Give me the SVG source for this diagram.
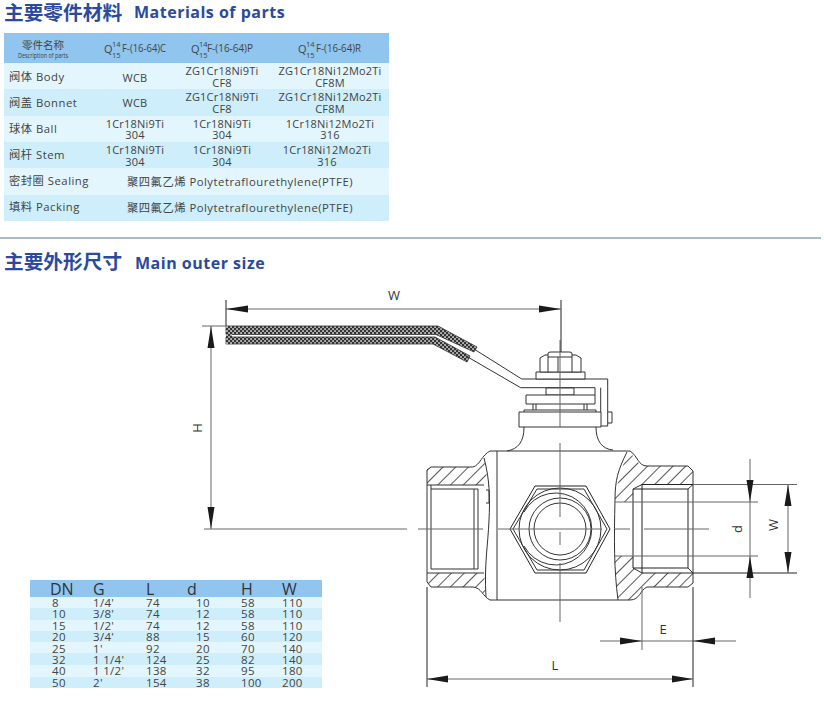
<svg xmlns="http://www.w3.org/2000/svg" width="824" height="712" viewBox="0 0 824 712">
<style>
.h{font-family:"Noto Sans CJK SC","Noto Sans",sans-serif;font-weight:700;font-size:19.7px;fill:#2b4a9e}
.he{font-family:"Open Sans","Noto Sans",sans-serif;font-weight:700;font-size:16px;fill:#2b4a9e;letter-spacing:.5px}
.t{font-family:"Open Sans","Noto Sans CJK SC",sans-serif;font-size:11px;fill:#444;letter-spacing:.2px}
.u{font-family:"Open Sans","Noto Sans CJK SC",sans-serif;font-size:11.3px;fill:#444;letter-spacing:.5px}
.c{text-anchor:middle}
.n{font-family:"Open Sans","Noto Sans CJK SC",sans-serif;font-size:11px;fill:#444}
.s{font-family:"Open Sans","Noto Sans CJK SC",sans-serif;font-size:7.5px;fill:#444}
.b{font-family:"Open Sans",sans-serif;font-size:13px;fill:#333}
.d{font-family:"Open Sans",sans-serif;font-size:11.5px;fill:#444;letter-spacing:.3px}
.dh{font-family:"Open Sans",sans-serif;font-size:16px;fill:#333}
.l{fill:none;stroke:#333;stroke-width:1}
.g{fill:none;stroke:#666;stroke-width:1}
.k{fill:none;stroke:#222;stroke-width:1}
.w{fill:#fff;stroke:#333;stroke-width:1}
.a{fill:#1a1a1a}
.r1{fill:#e3f5fd}
.r2{fill:#cdeefa}
.hd{fill:#8fc5ef}
</style>
<defs>
<pattern id="hatch" width="9" height="9" patternUnits="userSpaceOnUse" patternTransform="rotate(45)"><line x1="4.5" y1="0" x2="4.5" y2="9" stroke="#444" stroke-width=".9"/></pattern>
<pattern id="mesh" width="4" height="4" patternUnits="userSpaceOnUse"><rect width="4" height="4" fill="#333"/><rect x=".3" y=".3" width="1.5" height="1.5" fill="#fff"/><rect x="2.3" y="2.3" width="1.5" height="1.5" fill="#fff"/></pattern>
</defs>
<rect width="824" height="712" fill="#fff"/>
<g id="title-materials">
<text class="h" x="4" y="20">主要零件材料</text>
<text class="he" x="134" y="18">Materials of parts</text>
</g>
<g id="materials-table">
<rect class="hd" x="4" y="33" width="385" height="30"/>
<rect class="r1" x="4" y="63" width="385" height="26"/>
<rect class="r2" x="4" y="89" width="385" height="27"/>
<rect class="r1" x="4" y="116" width="385" height="26"/>
<rect class="r2" x="4" y="142" width="385" height="26"/>
<rect class="r1" x="4" y="168" width="385" height="27"/>
<rect class="r2" x="4" y="195" width="385" height="26"/>
<text class="n c" x="43" y="49" style="font-size:10.5px">零件名称</text>
<text class="s c" x="43" y="58" textLength="50" lengthAdjust="spacingAndGlyphs">Description of parts</text>
<text class="n" x="104" y="53">Q</text><text class="s" x="112" y="47">14</text><text class="s" x="112" y="58">15</text>
<text class="n" x="122" y="52" textLength="44" lengthAdjust="spacingAndGlyphs">F-(16-64)C</text>
<text class="n" x="191" y="53">Q</text><text class="s" x="199" y="47">14</text><text class="s" x="199" y="58">15</text>
<text class="n" x="207" y="52" textLength="46" lengthAdjust="spacingAndGlyphs">F-(16-64)P</text>
<text class="n" x="298" y="53">Q</text><text class="s" x="306" y="47">14</text><text class="s" x="306" y="58">15</text>
<text class="n" x="316" y="52" textLength="45" lengthAdjust="spacingAndGlyphs">F-(16-64)R</text>
<text class="u" x="9" y="81">阀体 Body</text>
<text class="t c" x="135" y="82">WCB</text>
<text class="t c" x="222" y="75">ZG1Cr18Ni9Ti</text><text class="t c" x="222" y="87">CF8</text>
<text class="t c" x="330" y="75">ZG1Cr18Ni12Mo2Ti</text><text class="t c" x="330" y="87">CF8M</text>
<text class="u" x="9" y="107">阀盖 Bonnet</text>
<text class="t c" x="135" y="107">WCB</text>
<text class="t c" x="222" y="101">ZG1Cr18Ni9Ti</text><text class="t c" x="222" y="113">CF8</text>
<text class="t c" x="330" y="101">ZG1Cr18Ni12Mo2Ti</text><text class="t c" x="330" y="113">CF8M</text>
<text class="u" x="9" y="133">球体 Ball</text>
<text class="t c" x="135" y="128">1Cr18Ni9Ti</text><text class="t c" x="135" y="139">304</text>
<text class="t c" x="222" y="128">1Cr18Ni9Ti</text><text class="t c" x="222" y="139">304</text>
<text class="t c" x="330" y="128">1Cr18Ni12Mo2Ti</text><text class="t c" x="330" y="139">316</text>
<text class="u" x="9" y="159">阀杆 Stem</text>
<text class="t c" x="135" y="154">1Cr18Ni9Ti</text><text class="t c" x="135" y="166">304</text>
<text class="t c" x="222" y="154">1Cr18Ni9Ti</text><text class="t c" x="222" y="166">304</text>
<text class="t c" x="327" y="154">1Cr18Ni12Mo2Ti</text><text class="t c" x="327" y="166">316</text>
<text class="u" x="9" y="185">密封圈 Sealing</text>
<text class="u" x="127" y="186">聚四氟乙烯 Polytetraflourethylene(PTFE)</text>
<text class="u" x="9" y="211">填料 Packing</text>
<text class="u" x="127" y="212">聚四氟乙烯 Polytetraflourethylene(PTFE)</text>
</g>
<line id="separator" x1="0" y1="238" x2="821" y2="238" stroke="#5a75ac" stroke-width="1.2"/>
<g id="title-size">
<text class="h" x="4" y="269">主要外形尺寸</text>
<text class="he" x="135" y="269">Main outer size</text>
</g>
<g id="size-table">
<rect class="hd" x="30" y="580" width="292" height="17"/>
<rect class="r1" x="30" y="597" width="292" height="11"/>
<rect class="r2" x="30" y="608" width="292" height="12"/>
<rect class="r1" x="30" y="620" width="292" height="11"/>
<rect class="r2" x="30" y="631" width="292" height="11"/>
<rect class="r1" x="30" y="642" width="292" height="11"/>
<rect class="r2" x="30" y="653" width="292" height="12"/>
<rect class="r1" x="30" y="665" width="292" height="12"/>
<rect class="r2" x="30" y="677" width="292" height="11"/>
<text class="dh" x="50" y="595">DN</text><text class="dh" x="93" y="595">G</text><text class="dh" x="146" y="595">L</text><text class="dh" x="187" y="595">d</text><text class="dh" x="241" y="595">H</text><text class="dh" x="282" y="595">W</text>
<text class="d" x="52" y="607">8</text><text class="d" x="93" y="607">1/4'</text><text class="d" x="146" y="607">74</text><text class="d" x="196" y="607">10</text><text class="d" x="241" y="607">58</text><text class="d" x="282" y="607">110</text>
<text class="d" x="52" y="618">10</text><text class="d" x="93" y="618">3/8'</text><text class="d" x="146" y="618">74</text><text class="d" x="196" y="618">12</text><text class="d" x="241" y="618">58</text><text class="d" x="282" y="618">110</text>
<text class="d" x="52" y="630">15</text><text class="d" x="93" y="630">1/2'</text><text class="d" x="146" y="630">74</text><text class="d" x="196" y="630">12</text><text class="d" x="241" y="630">58</text><text class="d" x="282" y="630">110</text>
<text class="d" x="52" y="641">20</text><text class="d" x="93" y="641">3/4'</text><text class="d" x="146" y="641">88</text><text class="d" x="196" y="641">15</text><text class="d" x="241" y="641">60</text><text class="d" x="282" y="641">120</text>
<text class="d" x="52" y="653">25</text><text class="d" x="93" y="653">1'</text><text class="d" x="146" y="653">92</text><text class="d" x="196" y="653">20</text><text class="d" x="241" y="653">70</text><text class="d" x="282" y="653">140</text>
<text class="d" x="52" y="664">32</text><text class="d" x="93" y="664">1 1/4'</text><text class="d" x="146" y="664">124</text><text class="d" x="196" y="664">25</text><text class="d" x="241" y="664">82</text><text class="d" x="282" y="664">140</text>
<text class="d" x="52" y="675">40</text><text class="d" x="93" y="675">1 1/2'</text><text class="d" x="146" y="675">138</text><text class="d" x="196" y="675">32</text><text class="d" x="241" y="675">95</text><text class="d" x="282" y="675">180</text>
<text class="d" x="52" y="687">50</text><text class="d" x="93" y="687">2'</text><text class="d" x="146" y="687">154</text><text class="d" x="196" y="687">38</text><text class="d" x="241" y="687">100</text><text class="d" x="282" y="687">200</text>
</g>
<g id="handle">
<path d="M226 326H438L477 347L474 352L436 334.5H226Z" fill="url(#mesh)" stroke="#333" stroke-width=".8"/>
<path d="M226 337H435L470 356L467 362L433 344H226Z" fill="url(#mesh)" stroke="#333" stroke-width=".8"/>
<path d="M226 326H232V344H226Z" fill="url(#mesh)"/>
<path class="l" d="M474 349L521.7 379H607.7V426H601"/>
<path class="l" d="M466 356L520.7 387.7H595V395"/>
<path class="l" d="M600.7 387.7V412"/>
</g>
<g id="stem">
<path class="w" d="M536 372H585V379H536Z"/>
<path class="w" d="M540 372V358L545 355H576L581 358V372Z"/>
<path class="w" d="M548 357V353L550 352H570L572 353V357Z"/>
<path class="l" d="M548 357V372M558 357V372M572 357V372"/>
<path class="w" d="M546 388H574V395H546Z"/>
<path class="w" d="M526 395H595V404H526Z"/>
<path class="l" d="M533 404V410M536 404V410M584 404V410M587 404V410"/>
<path class="l" d="M524 412V410H596V412"/>
<path class="w" d="M519 412H601V427H519Z"/>
<path class="l" d="M608 412H612V423H608"/>
<path class="l" d="M524 427C524 442 518 449 507 451M596 427C596 441 602 449 613 450"/>
</g>
<g id="body">
<path d="M427 470L431 467H473L484 458L490 497V485H427Z" fill="url(#hatch)"/>
<path d="M427 573H484L486 597L478 587H431L427 582Z" fill="url(#hatch)"/>
<path d="M627 452H630C635 458 638 466 647 466H688L693 471V484.5H642L633 489V502H615V493Z" fill="url(#hatch)"/>
<path d="M614 556H633V568L642 573H693V583L688 587H647C640 590 640 600 630 600H618Z" fill="url(#hatch)"/>
<path class="l" d="M427 470L431 467H473C480 465 482 455 490 451H630C638 456 638 466 647 466H688L693 471V583L688 587H647C640 590 640 600 630 600H490C482 596 482 588 473 587H431L427 582Z"/>
<path class="l" d="M497 451V600"/>
<path class="l" d="M484 458C490 480 490 500 489 520C488 545 484 565 486 597"/>
<path class="l" d="M627 452C618 470 615 480 615 500C614 540 614 570 618 600"/>
<path class="l" d="M427 485H484M427 573H484M431 489H478V569H431V485M474 489V569"/>
<path class="k" d="M642 484.5H693M642 573H693M642 484.5V573M633 489H688V568H633Z"/>
<path class="l" d="M642 484.5L633 489M642 573L633 568M693 484.5L688 489M693 573L688 568"/>
<path class="l" d="M486 490H489V503H486"/>
<path class="k" d="M510 529L535 486H586L610 529L586 573H535Z"/>
<path class="l" d="M513 529L537 489H584L607 529L584 570H537Z"/>
<circle class="l" cx="560" cy="529" r="41"/>
<path class="l" d="M524 512A36 36 0 1 1 524 546"/>
<circle class="l" cx="560" cy="529" r="31"/>
<circle class="l" cx="560" cy="529" r="26"/>
</g>
<g id="connectors">
<path class="g" d="M560 340V427M560 443V517M560 532V545M560 563V622"/>
<path class="g" d="M204 529H407M418 529H483M498 529H602M615 529H630M644 529H709"/>
<path class="g" d="M615 502H758M615 556H758M693 484.5H797"/>
<path class="k" d="M693 573H797"/>
<path class="g" d="M750 459V598M788 484.5V573"/>
<path class="g" d="M642 587V650M600 641H736"/>
<path class="k" d="M693 587V687"/>
<path class="k" d="M427 587V687"/>
<path class="g" d="M427 679H693"/>
<path class="k" d="M226 300V326"/>
<path class="k" d="M561 300V352"/>
<path class="g" d="M226 309H561M211 326V529M202 326H226"/>
<path class="a" d="M226 309L248 305.5V312.5ZM561 309L539 305.5V312.5ZM211 326L207.5 348H214.5ZM211 529L207.5 507H214.5Z"/>
<path class="a" d="M750 502L746.5 480H753.5ZM750 556L746.5 578H753.5ZM788 484.5L784.5 506H791.5ZM788 573L784.5 552H791.5Z"/>
<path class="a" d="M642 641L620 637.5V644.5ZM693 641L715 637.5V644.5ZM693 679L672 675.5V682.5ZM427 679L448 675.5V682.5Z"/>
</g>
<g id="dimension-labels">
<text class="b" x="394" y="300" text-anchor="middle">W</text>
<text class="b" transform="translate(202 428) rotate(-90)" text-anchor="middle">H</text>
<text class="b" transform="translate(742 529) rotate(-90)" text-anchor="middle">d</text>
<text class="b" transform="translate(778 525) rotate(-90)" text-anchor="middle">W</text>
<text class="b" x="663" y="634" text-anchor="middle">E</text>
<text class="b" x="555" y="670" text-anchor="middle">L</text>
</g>
</svg>
